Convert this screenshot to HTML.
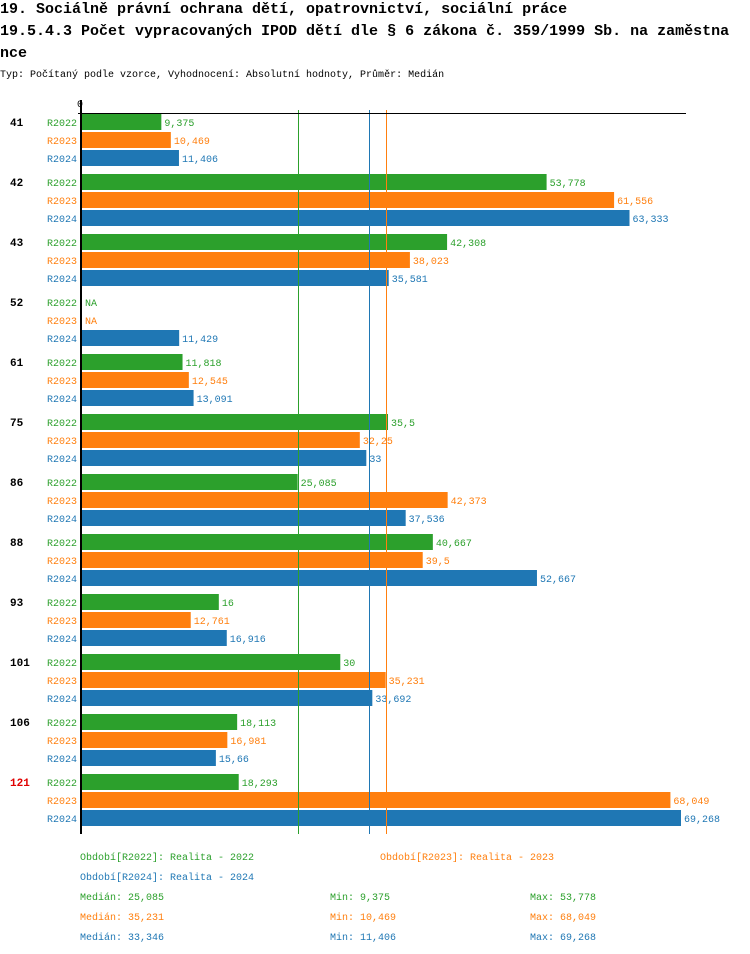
<!DOCTYPE html>
<html><head><meta charset="utf-8"><style>
body{margin:0;background:#fff;width:750px;height:954px;overflow:hidden;font-family:"Liberation Mono",monospace;}
svg{position:absolute;left:0;top:0}
</style></head><body>
<svg id="chart" width="750" height="954" xmlns="http://www.w3.org/2000/svg" font-family="Liberation Mono, monospace"></svg>
<script>
const categories=["41","42","43","52","61","75","86","88","93","101","106","121"];
const seriesNames=["R2022","R2023","R2024"];
const v2022=[9.375,53.778,42.308,null,11.818,35.5,25.085,40.667,16,30,18.113,18.293];
const v2023=[10.469,61.556,38.023,null,12.545,32.25,42.373,39.5,12.761,35.231,16.981,68.049];
const v2024=[11.406,63.333,35.581,11.429,13.091,33,37.536,52.667,16.916,33.692,15.66,69.268];
const medians=[25.085,35.231,33.346];
const mins=[9.375,10.469,11.406];
const maxs=[53.778,68.049,69.268];
const colors=["#2ca02c","#ff7f0e","#1f77b4"];
const NS="http://www.w3.org/2000/svg";
const svg=document.getElementById('chart');
const x0=80,scale=(681-80)/69.268;
const xs=v=>x0+v*scale;
const yGroup=i=>114+i*60;
const fmt=v=>String(v).replace('.',',');
function el(tag,a,txt){const e=document.createElementNS(NS,tag);for(const k in a)e.setAttribute(k,a[k]);if(txt!=null)e.textContent=txt;svg.appendChild(e);return e;}
let t=el('text',{x:0,y:13,'font-size':15,'font-weight':'bold',fill:'#000'},"19. Sociálně právní ochrana dětí, opatrovnictví, sociální práce");

t=el('text',{x:0,y:35,'font-size':15,'font-weight':'bold',fill:'#000'},"19.5.4.3 Počet vypracovaných IPOD dětí dle § 6 zákona č. 359/1999 Sb. na zaměstna");

t=el('text',{x:0,y:57,'font-size':15,'font-weight':'bold',fill:'#000'},"nce");

t=el('text',{x:0,y:77,'font-size':10,fill:'#000'},"Typ: Počítaný podle vzorce, Vyhodnocení: Absolutní hodnoty, Průměr: Medián");

t=el('text',{x:77,y:107,'font-size':10,fill:'#000'},"0");

const all=[v2022,v2023,v2024];
categories.forEach((c,i)=>{
  const gy=yGroup(i);
  const lab=el('text',{x:10,y:gy+12,'font-size':11,'font-weight':'bold',fill:c==="121"?"#e00000":"#000"},c);
  
  all.forEach((ser,s)=>{
    const y=gy+s*18;const v=ser[i];
    const sl=el('text',{x:47,y:y+12,'font-size':10,fill:colors[s]},seriesNames[s]);
    
    if(v==null){
      const na=el('text',{x:85,y:y+12,'font-size':10,fill:colors[s]},"NA");
      
      return;
    }
    const r=el('rect',{x:82,y:y,width:Math.max(0,xs(v)-82),height:16,fill:colors[s]});
    
    const vl=el('text',{x:xs(v)+3,y:y+12,'font-size':10,fill:colors[s]},fmt(v));
    
  });
});
medians.forEach((m,s)=>{
  const l=el('line',{x1:Math.round(xs(m))+0.5,x2:Math.round(xs(m))+0.5,y1:110,y2:834,stroke:colors[s],'stroke-width':1});
  
});
let ax=el('rect',{x:80,y:100,width:2,height:734,fill:'#000'});

ax=el('rect',{x:78,y:113,width:608,height:1,fill:'#000'});

const leg=[[80,860,"Období[R2022]: Realita - 2022",0],[380,860,"Období[R2023]: Realita - 2023",1],[80,880,"Období[R2024]: Realita - 2024",2]];
leg.forEach(a=>{const e=el('text',{x:a[0],y:a[1],'font-size':10,fill:colors[a[3]]},a[2]);
});
[0,1,2].forEach(s=>{
  const y=900+s*20;
  let e=el('text',{x:80,y:y,'font-size':10,fill:colors[s]},"Medián: "+fmt(medians[s]));
  
  e=el('text',{x:330,y:y,'font-size':10,fill:colors[s]},"Min: "+fmt(mins[s]));
  
  e=el('text',{x:530,y:y,'font-size':10,fill:colors[s]},"Max: "+fmt(maxs[s]));
  
});
</script>
</body></html>
